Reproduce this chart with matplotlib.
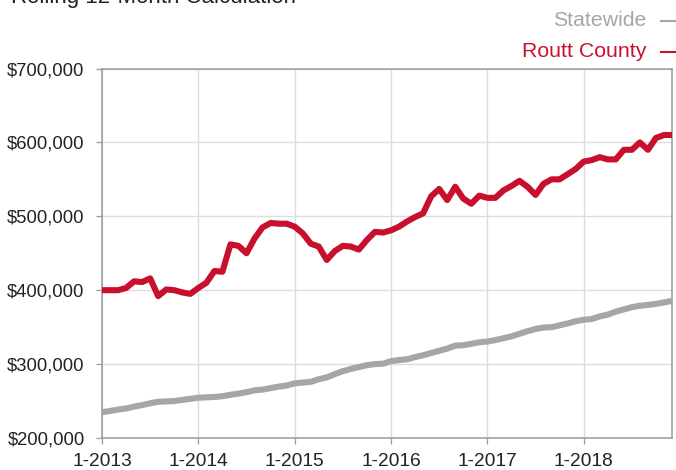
import matplotlib.pyplot as plt
import numpy as np
from matplotlib.lines import Line2D

plt.rcParams['font.family'] = ['Liberation Sans', 'DejaVu Sans']

# Rolling 12-month median price, monthly from 1-2013 to 12-2018
statewide = [235000, 236500, 238500, 240000, 242500, 244500, 247000, 249000,
             249500, 250000, 251500, 253000, 254500, 255000, 255500, 256500,
             258500, 260000, 262000, 264500, 265500, 267500, 269500, 271000,
             274000, 275000, 276000, 279500, 282000, 286500, 290500, 293500,
             296000, 298500, 300000, 300500, 304000, 305500, 306500, 309500,
             312000, 315000, 318000, 321000, 325000, 325500, 327500, 329500,
             330500, 332500, 335000, 337500, 341000, 344500, 347500, 349500,
             350000, 352500, 355000, 358000, 360000, 361000, 364500, 367000,
             371000, 374000, 377000, 379000, 380000, 381500, 383500, 385500]

routt = [400000, 400000, 400000, 403000, 412000, 411000, 416000, 392000,
         401000, 400000, 397000, 395000, 403000, 410000, 426000, 425000,
         462000, 460000, 450000, 470000, 485000, 491000, 490000, 490000,
         486000, 477000, 463000, 459000, 441000, 453000, 460000, 459000,
         455000, 468000, 479000, 478000, 481000, 486000, 493000, 499000,
         504000, 527000, 537000, 522000, 540000, 524000, 517000, 528000,
         525000, 525000, 535000, 541000, 548000, 540000, 529000, 544000,
         550000, 550000, 557000, 564000, 574000, 576000, 580000, 577000,
         577000, 590000, 590000, 600000, 590000, 606000, 610000, 610000]

year_labels = ['1-2013', '1-2014', '1-2015', '1-2016', '1-2017', '1-2018']
y_ticks = [200000, 300000, 400000, 500000, 600000, 700000]

red = '#C8102E'
gray = '#A6A6A6'

months = np.arange(len(routt))

fig = plt.figure(figsize=(6.76, 4.70), dpi=100)
ax = fig.add_axes([102 / 676, 1 - 438 / 470, 570 / 676, 369.5 / 470])

ax.plot(months, statewide, color=gray, lw=4.4, solid_joinstyle='round',
        solid_capstyle='butt', zorder=3)
ax.plot(months, routt, color=red, lw=4.4, solid_joinstyle='round',
        solid_capstyle='butt', zorder=4)

ax.set_xlim(0, len(routt) - 1)
ax.set_ylim(200000, 700000)
ax.set_xticks(months[::12])
ax.set_xticklabels(year_labels)
ax.set_yticks(y_ticks)
ax.set_yticklabels(['${:,}'.format(v) for v in y_ticks])

ax.grid(True, color='#DDDDDD', lw=1, zorder=0)
for s in ax.spines.values():
    s.set_color('#9A9A9A')
    s.set_linewidth(1.1)
ax.tick_params(axis='both', colors='#9A9A9A', length=4.5, width=0.9,
               labelcolor='#222222')
ax.tick_params(axis='y', labelsize=13.3, pad=8)
ax.tick_params(axis='x', labelsize=13.8, pad=6.5)

# title (cut off at the top in the original image)
fig.text(11 / 676, 1 - 3.5 / 470, 'Rolling 12-Month Calculation',
         fontsize=16, color='#222222', ha='left', va='baseline')

# legend as right-aligned labels with a short dash
leg = [('Statewide', gray, 26.5), ('Routt County', red, 57)]
for name, col, base in leg:
    fig.text(646 / 676, 1 - base / 470, name, fontsize=15.3, color=col,
             ha='right', va='baseline')
    yy = 1 - (base - 5.5) / 470
    fig.add_artist(Line2D([661 / 676, 676 / 676], [yy, yy], color=col,
                          lw=1.5, transform=fig.transFigure))

fig.savefig('out.png', dpi=100)
